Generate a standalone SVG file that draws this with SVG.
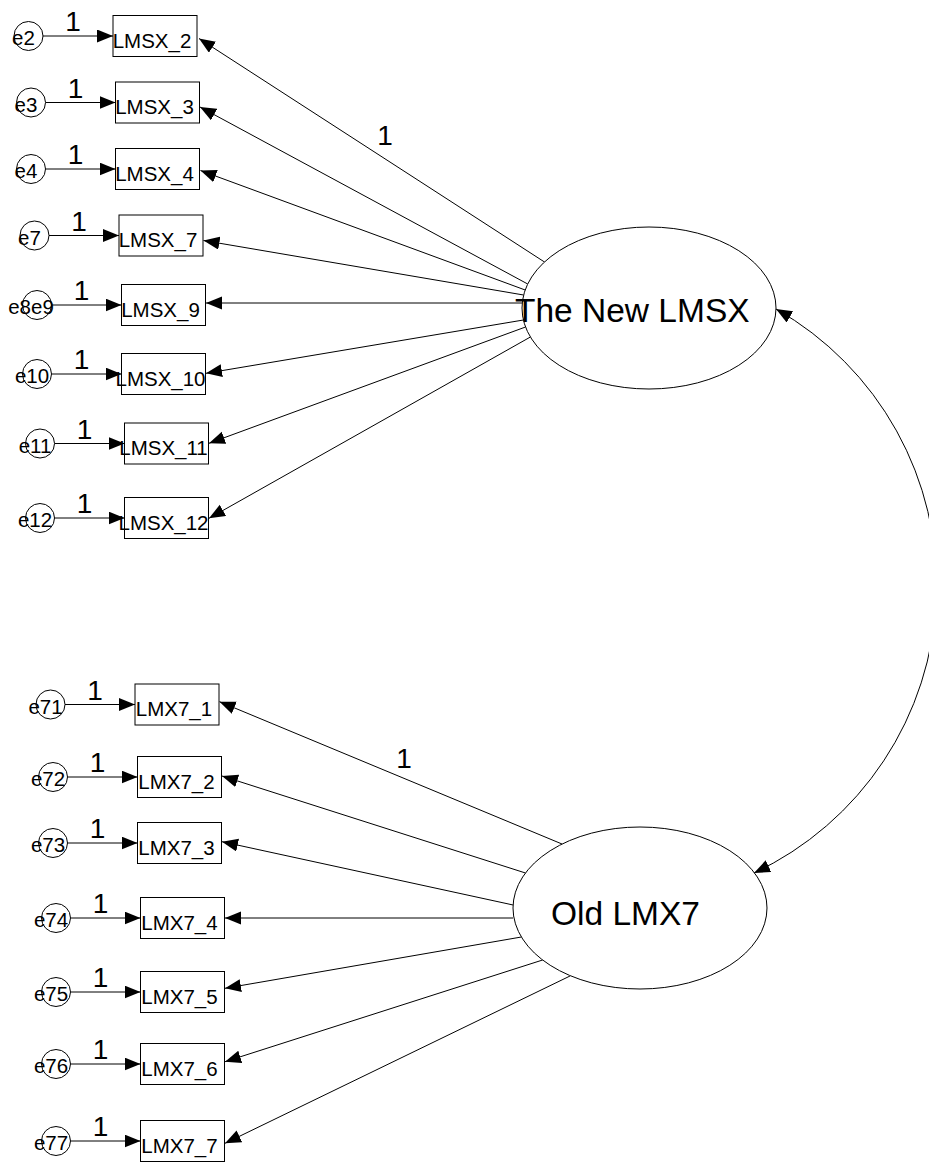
<svg xmlns="http://www.w3.org/2000/svg" width="929" height="1163" viewBox="0 0 929 1163">
<style>
text{font-family:"Liberation Sans",Arial,sans-serif;fill:#000}
.obs{fill:#fff;stroke:#000;stroke-width:1}
.err{fill:#fff;stroke:#000;stroke-width:1}
.lat{fill:#fff;stroke:#000;stroke-width:1}
.t{font-size:20.5px;text-anchor:middle}
.one{font-size:28px;text-anchor:middle}
.big{font-size:33.5px}
.c{fill:none;stroke:#000;stroke-width:1;marker-end:url(#ah)}
.arc{fill:none;stroke:#000;stroke-width:1;marker-start:url(#ah);marker-end:url(#ah)}
</style>
<defs>
<marker id="ah" markerUnits="userSpaceOnUse" markerWidth="17" markerHeight="14" refX="16" refY="6.5" orient="auto-start-reverse">
<path d="M0,0 L16,6.5 L0,13 z" fill="#000"/>
</marker>
</defs>
<g id="connectors">
<path class="c" d="M43 36H113"/>
<path class="c" d="M45.5 102.5H115.5"/>
<path class="c" d="M45.5 169H115.5"/>
<path class="c" d="M49 235.5H119"/>
<path class="c" d="M51.5 305H121.5"/>
<path class="c" d="M51.5 374H121.5"/>
<path class="c" d="M54.5 443.5H124.5"/>
<path class="c" d="M54.5 518H124.5"/>
<path class="c" d="M65 704.5H135"/>
<path class="c" d="M67.5 777H137.5"/>
<path class="c" d="M67.5 843H137.5"/>
<path class="c" d="M70.5 918H140.5"/>
<path class="c" d="M70.5 992H140.5"/>
<path class="c" d="M70.5 1064H140.5"/>
<path class="c" d="M70.5 1141H140.5"/>
<path class="c" d="M544.5 262L199 38.5"/>
<path class="c" d="M527.7 284L200 107"/>
<path class="c" d="M525.2 290L200.5 170.5"/>
<path class="c" d="M523.6 295L203.5 240.5"/>
<path class="c" d="M522.2 303L206 303"/>
<path class="c" d="M523.4 320L206 373.3"/>
<path class="c" d="M525.5 327L209 443.3"/>
<path class="c" d="M530.4 337L209 518.3"/>
<path class="c" d="M562 844L219.5 701.7"/>
<path class="c" d="M525.5 873L222 776"/>
<path class="c" d="M513.1 905L222 841.7"/>
<path class="c" d="M513 918L225 918"/>
<path class="c" d="M521.4 937L225 988.3"/>
<path class="c" d="M542.6 960L225 1061.7"/>
<path class="c" d="M570 976L225 1143.3"/>
<path class="arc" d="M754 873A318 318 0 0 0 776 309"/>
<text class="one" x="385" y="145">1</text>
<text class="one" x="404" y="768">1</text>
</g>
<g id="new_lmsx"><ellipse class="lat" cx="649" cy="308" rx="127" ry="81"/><text class="big" x="515" y="322">The New LMSX</text></g>
<g id="old_lmx7"><ellipse class="lat" cx="640" cy="908" rx="127" ry="81"/><text class="big" x="551" y="925">Old LMX7</text></g>

<g id="lmsx_2"><rect class="obs" x="113" y="15.5" width="84" height="41"/><text class="t" x="152" y="47.5">LMSX_2</text></g>
<g id="lmsx_3"><rect class="obs" x="115.5" y="82" width="84" height="41"/><text class="t" x="154.5" y="114">LMSX_3</text></g>
<g id="lmsx_4"><rect class="obs" x="115.5" y="148.5" width="84" height="41"/><text class="t" x="154.5" y="180.5">LMSX_4</text></g>
<g id="lmsx_7"><rect class="obs" x="119" y="215" width="84" height="41"/><text class="t" x="158" y="247">LMSX_7</text></g>
<g id="lmsx_9"><rect class="obs" x="121.5" y="284.5" width="84" height="41"/><text class="t" x="160.5" y="316.5">LMSX_9</text></g>
<g id="lmsx_10"><rect class="obs" x="121.5" y="353.5" width="84" height="41"/><text class="t" x="160.5" y="385.5">LMSX_10</text></g>
<g id="lmsx_11"><rect class="obs" x="124.5" y="423" width="84" height="41"/><text class="t" x="163.5" y="455">LMSX_11</text></g>
<g id="lmsx_12"><rect class="obs" x="124.5" y="497.5" width="84" height="41"/><text class="t" x="163.5" y="529.5">LMSX_12</text></g>

<g id="lmx7_1"><rect class="obs" x="135" y="684" width="84" height="41"/><text class="t" x="174" y="716">LMX7_1</text></g>
<g id="lmx7_2"><rect class="obs" x="137.5" y="756.5" width="84" height="41"/><text class="t" x="176.5" y="788.5">LMX7_2</text></g>
<g id="lmx7_3"><rect class="obs" x="137.5" y="822.5" width="84" height="41"/><text class="t" x="176.5" y="854.5">LMX7_3</text></g>
<g id="lmx7_4"><rect class="obs" x="140.5" y="897.5" width="84" height="41"/><text class="t" x="179.5" y="929.5">LMX7_4</text></g>
<g id="lmx7_5"><rect class="obs" x="140.5" y="971.5" width="84" height="41"/><text class="t" x="179.5" y="1003.5">LMX7_5</text></g>
<g id="lmx7_6"><rect class="obs" x="140.5" y="1043.5" width="84" height="41"/><text class="t" x="179.5" y="1075.5">LMX7_6</text></g>
<g id="lmx7_7"><rect class="obs" x="140.5" y="1120.5" width="84" height="41"/><text class="t" x="179.5" y="1152.5">LMX7_7</text></g>

<g id="e2"><circle class="err" cx="28.5" cy="36" r="14.5"/><text class="t" x="23.5" y="45">e2</text><text class="one" x="73" y="31">1</text></g>
<g id="e3"><circle class="err" cx="31" cy="102.5" r="14.5"/><text class="t" x="26" y="111.5">e3</text><text class="one" x="75.5" y="97.5">1</text></g>
<g id="e4"><circle class="err" cx="31" cy="169" r="14.5"/><text class="t" x="26" y="178">e4</text><text class="one" x="75.5" y="164">1</text></g>
<g id="e7"><circle class="err" cx="34.5" cy="235.5" r="14.5"/><text class="t" x="29.5" y="244.5">e7</text><text class="one" x="79" y="230.5">1</text></g>
<g id="e8e9"><circle class="err" cx="37" cy="305" r="14.5"/><text class="t" x="31" y="314">e8e9</text><text class="one" x="81.5" y="300">1</text></g>
<g id="e10"><circle class="err" cx="37" cy="374" r="14.5"/><text class="t" x="32" y="383">e10</text><text class="one" x="81.5" y="369">1</text></g>
<g id="e11"><circle class="err" cx="40" cy="443.5" r="14.5"/><text class="t" x="35" y="452.5">e11</text><text class="one" x="84.5" y="438.5">1</text></g>
<g id="e12"><circle class="err" cx="40" cy="518" r="14.5"/><text class="t" x="35" y="527">e12</text><text class="one" x="84.5" y="513">1</text></g>

<g id="e71"><circle class="err" cx="50.5" cy="704.5" r="14.5"/><text class="t" x="45.5" y="713.5">e71</text><text class="one" x="95" y="699.5">1</text></g>
<g id="e72"><circle class="err" cx="53" cy="777" r="14.5"/><text class="t" x="48" y="786">e72</text><text class="one" x="97.5" y="772">1</text></g>
<g id="e73"><circle class="err" cx="53" cy="843" r="14.5"/><text class="t" x="48" y="852">e73</text><text class="one" x="97.5" y="838">1</text></g>
<g id="e74"><circle class="err" cx="56" cy="918" r="14.5"/><text class="t" x="51" y="927">e74</text><text class="one" x="100.5" y="913">1</text></g>
<g id="e75"><circle class="err" cx="56" cy="992" r="14.5"/><text class="t" x="51" y="1001">e75</text><text class="one" x="100.5" y="987">1</text></g>
<g id="e76"><circle class="err" cx="56" cy="1064" r="14.5"/><text class="t" x="51" y="1073">e76</text><text class="one" x="100.5" y="1059">1</text></g>
<g id="e77"><circle class="err" cx="56" cy="1141" r="14.5"/><text class="t" x="51" y="1150">e77</text><text class="one" x="100.5" y="1136">1</text></g>
</svg>
